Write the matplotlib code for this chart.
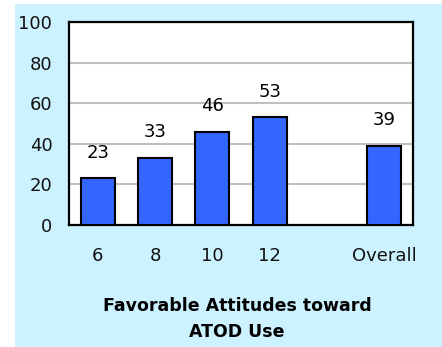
import matplotlib.pyplot as plt
import numpy as np
from matplotlib.patches import Rectangle

# data
grades = ["6", "8", "10", "12", "", "Overall"]
values = [23, 33, 46, 53, None, 39]
yticks = [0, 20, 40, 60, 80, 100]
title = "Favorable Attitudes toward\nATOD Use"

W, H = 442, 347
fig = plt.figure(figsize=(W / 100, H / 100), dpi=100, facecolor="white")

# light blue panel behind the chart
fig.patches.append(Rectangle((15 / W, 0), 1 - 15 / W, (H - 4) / H,
                             transform=fig.transFigure, facecolor="#CCF2FF",
                             edgecolor="none", zorder=-10))

ax = fig.add_axes([69 / W, 1 - 225 / H, (413 - 69) / W, (225 - 22) / H])
ax.set_facecolor("white")

x = np.arange(len(grades))
for xi, v in zip(x, values):
    if v is None:
        continue
    ax.bar(xi, v, width=0.59, color="#3366FF", edgecolor="black",
           linewidth=1.5, zorder=3)
    ax.annotate(f"{v}", (xi, v), xytext=(0, 12), textcoords="offset points",
                ha="center", va="bottom", fontsize=13, color="black")

ax.set_xlim(-0.5, len(grades) - 0.5)
ax.set_ylim(0, 100)
ax.set_yticks(yticks)
ax.set_yticklabels([str(t) for t in yticks], fontsize=13, color="#111111")
ax.set_xticks([xi for xi, g in zip(x, grades) if g])
ax.set_xticklabels([g for g in grades if g], fontsize=13, color="#111111")
ax.tick_params(length=0)
ax.tick_params(axis="x", pad=16)
ax.tick_params(axis="y", pad=12)
ax.yaxis.grid(True, color="#C0C0C0", linewidth=1.5, zorder=0)
ax.set_axisbelow(True)
for s in ax.spines.values():
    s.set_linewidth(1.6)
    s.set_color("black")

fig.text(237 / W, 1 - 319 / H, title, ha="center", va="center",
         fontsize=12.5, fontweight="bold", linespacing=1.55)

plt.savefig("out.png", dpi=100)
plt.close()
